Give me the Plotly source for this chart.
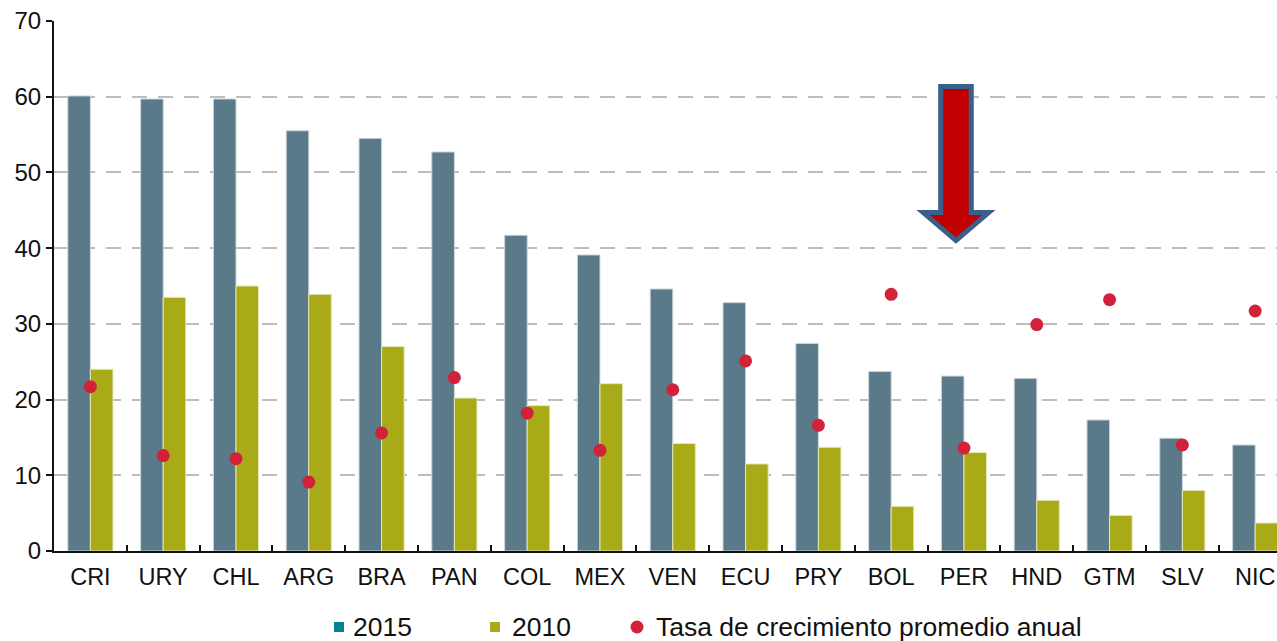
import plotly.graph_objects as go

paises = ["CRI", "URY", "CHL", "ARG", "BRA", "PAN", "COL", "MEX", "VEN",
          "ECU", "PRY", "BOL", "PER", "HND", "GTM", "SLV", "NIC"]
valores_2015 = [60.1, 59.7, 59.7, 55.5, 54.5, 52.7, 41.7, 39.1, 34.6,
                32.8, 27.4, 23.7, 23.1, 22.8, 17.3, 14.9, 14.0]
valores_2010 = [24.0, 33.5, 35.0, 33.9, 27.0, 20.2, 19.2, 22.1, 14.2,
                11.5, 13.7, 5.9, 13.0, 6.7, 4.7, 8.0, 3.7]
tasa_crecimiento = [21.7, 12.6, 12.2, 9.1, 15.6, 22.9, 18.2, 13.3, 21.3,
                    25.1, 16.6, 33.9, 13.6, 29.9, 33.2, 14.0, 31.7]
y_ticks = [0, 10, 20, 30, 40, 50, 60, 70]
legend_labels = ["2015", "2010", "Tasa de crecimiento promedio anual"]

FONT = "Liberation Sans, Arial, sans-serif"
C_2015 = "#5b7a89"
C_2010 = "#a8ab17"
C_TASA = "#d1223a"
C_LEG_2015 = "#00858f"

W, H = 1277, 641
L, R, T, B = 54, 0, 21, 90


def px(x):  # pixel -> paper x
    return (x - L) / (W - L - R)


def py(y):  # pixel -> paper y
    return (H - B - y) / (H - T - B)


fig = go.Figure()
fig.add_trace(go.Bar(
    x=paises, y=valores_2015, name="2015", showlegend=False,
    marker=dict(color=C_2015, line=dict(color="#c9d5db", width=1))
))
fig.add_trace(go.Bar(
    x=paises, y=valores_2010, name="2010", showlegend=False,
    marker=dict(color=C_2010, line=dict(color="#e6e8b8", width=1))
))
fig.add_trace(go.Scatter(
    x=paises, y=tasa_crecimiento, mode="markers", showlegend=False,
    name=legend_labels[2], marker=dict(color=C_TASA, size=13)
))

# down arrow over PER
ax, sw, hw = 11.89, 0.21, 0.45
arrow = (f"M {ax - sw},61.35 L {ax + sw},61.35 L {ax + sw},44.7 "
         f"L {ax + hw},44.7 L {ax},41.0 L {ax - hw},44.7 "
         f"L {ax - sw},44.7 Z")
fig.add_shape(type="path", path=arrow, xref="x", yref="y",
              fillcolor="#c00000", line=dict(color="#3a5f8a", width=5))

# legend drawn by hand (swatch for 2015 is teal in the original)
ly = 627
fig.add_shape(type="rect", xref="paper", yref="paper",
              x0=px(334), x1=px(344), y0=py(ly + 5), y1=py(ly - 5),
              fillcolor=C_LEG_2015, line=dict(width=0))
fig.add_shape(type="rect", xref="paper", yref="paper",
              x0=px(490), x1=px(500), y0=py(ly + 5), y1=py(ly - 5),
              fillcolor=C_2010, line=dict(width=0))
fig.add_shape(type="circle", xref="paper", yref="paper",
              x0=px(630.5), x1=px(643.5), y0=py(ly + 6.5), y1=py(ly - 6.5),
              fillcolor=C_TASA, line=dict(width=0))
for lab, x0 in zip(legend_labels, [351, 510, 654]):
    fig.add_annotation(text=lab, xref="paper", yref="paper",
                       x=px(x0), y=py(ly), xanchor="left", yanchor="middle",
                       showarrow=False, font=dict(size=26.5, color="#111111"))

fig.update_layout(
    width=W, height=H,
    margin=dict(l=L, r=R, t=T, b=B, autoexpand=False),
    paper_bgcolor="white", plot_bgcolor="white",
    barmode="group", bargap=0.38, bargroupgap=0,
    showlegend=False,
    font=dict(family=FONT, color="#111111", size=22),
    xaxis=dict(
        type="category", range=[-0.5, 16.3], automargin=False,
        showline=True, linecolor="#111111", linewidth=2,
        ticks="inside", tickson="boundaries", ticklen=6,
        tickcolor="#111111", tickwidth=1.5, ticklabelstandoff=4,
        tickfont=dict(size=23.5), showgrid=False,
    ),
    yaxis=dict(
        range=[0, 70], tickvals=y_ticks, automargin=False,
        showline=True, linecolor="#111111", linewidth=2,
        ticks="outside", ticklen=6, tickcolor="#111111", tickwidth=1.5,
        tickfont=dict(size=24),
        showgrid=True, gridcolor="#bdbdbd", gridwidth=1.5,
        griddash="15px,11px", zeroline=False,
    ),
)

# page body has a default 8px margin; remove it so the figure fills the window
fig.write_html("out.html", config={"displayModeBar": False},
               post_script="document.body.style.margin='0';"
                           "document.body.style.overflow='hidden';")
